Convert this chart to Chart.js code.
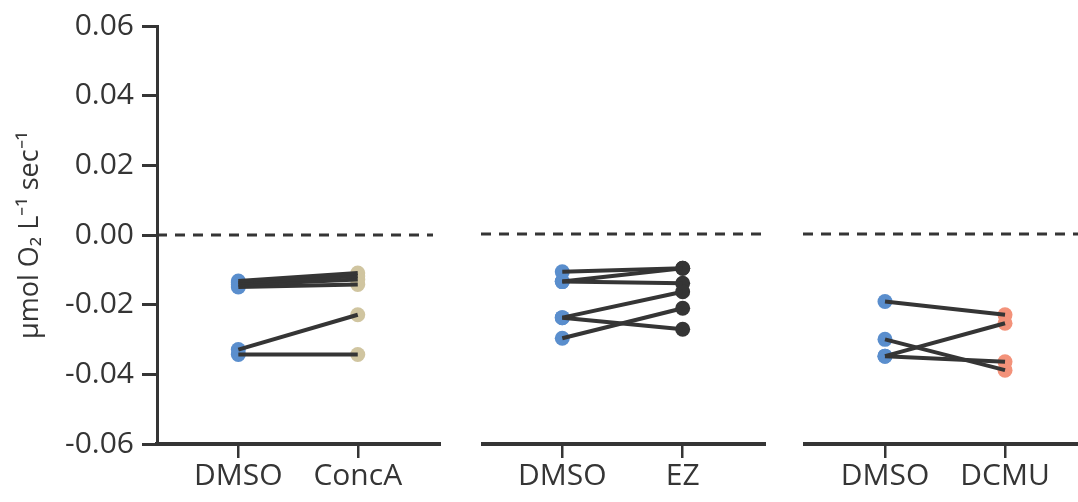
<!DOCTYPE html>
<html>
<head>
<meta charset="utf-8">
<script src="https://cdn.jsdelivr.net/npm/chart.js@4"></script>
<style>
  body { margin: 0; background: #fff; }
  canvas { position: absolute; top: 0; }
</style>
</head>
<body>
<canvas id="concaChart" width="441" height="502" style="left:0"></canvas>
<canvas id="ezChart" width="285" height="502" style="left:481px"></canvas>
<canvas id="dcmuChart" width="275" height="502" style="left:803px"></canvas>
<script>
var concaLabels = ['DMSO', 'ConcA']
var concaDmso = [-0.0132, -0.0137, -0.0143, -0.0149, -0.0329, -0.0343]
var concaTreated = [-0.0109, -0.0118, -0.0128, -0.0142, -0.0229, -0.0343]

var ezLabels = ['DMSO', 'EZ']
var ezDmso = [-0.0108, -0.0136, -0.0136, -0.0239, -0.0239, -0.0298]
var ezTreated = [-0.0098, -0.0098, -0.0141, -0.0165, -0.0272, -0.0212]

var dcmuLabels = ['DMSO', 'DCMU']
var dcmuDmso = [-0.0193, -0.0301, -0.0349, -0.0349]
var dcmuTreated = [-0.0231, -0.0389, -0.0255, -0.0365]

var yTicks = [-0.06, -0.04, -0.02, 0, 0.02, 0.04, 0.06]
var yTitle = 'μmol O₂ L⁻¹ sec⁻¹'

var dark = '#353535'
var blue = 'rgb(90, 142, 205)'
var font = 'Open Sans'

function makePanel(id, labels, before, after, color, xMin, xMax, dashEnd, showY) {
  var datasets = []
  before.forEach(function (v, i) {
    datasets.push({
      data: [{ x: 0, y: v }, { x: 1, y: after[i] }],
      showLine: true,
      borderColor: dark,
      borderWidth: 4,
      pointRadius: 0,
      order: 0,
    })
  })
  datasets.push({
    data: [{ x: xMin, y: 0 }, { x: dashEnd, y: 0 }],
    showLine: true,
    borderColor: dark,
    borderWidth: 3,
    borderDash: [10, 8],
    pointRadius: 0,
    order: 1,
  })
  datasets.push({
    data: before.map(function (v) { return { x: 0, y: v } }),
    pointRadius: 7.5,
    pointBackgroundColor: blue,
    pointBorderWidth: 0,
    order: 2,
  })
  datasets.push({
    data: after.map(function (v) { return { x: 1, y: v } }),
    pointRadius: 7.5,
    pointBackgroundColor: color,
    pointBorderWidth: 0,
    order: 2,
  })

  return new Chart(document.getElementById(id).getContext('2d'), {
    type: 'scatter',
    data: { datasets: datasets },
    options: {
      responsive: false,
      animation: false,
      layout: { autoPadding: false, padding: { top: 24, left: 0, right: 0, bottom: 0 } },
      plugins: { legend: { display: false }, tooltip: { enabled: false } },
      scales: {
        x: {
          type: 'linear',
          min: xMin,
          max: xMax,
          afterBuildTicks: function (scale) {
            scale.ticks = [{ value: 0 }, { value: 1 }]
          },
          afterFit: function (scale) {
            scale.height = 58
          },
          ticks: {
            color: dark,
            font: { family: font, size: 30 },
            padding: 0,
            callback: function (v) { return labels[Math.round(v)] },
          },
          grid: {
            drawOnChartArea: false,
            tickLength: 14,
            lineWidth: 2.5,
            color: dark,
          },
          border: { display: true, width: 4, color: dark },
        },
        y: {
          display: showY,
          min: -0.06,
          max: 0.06,
          afterBuildTicks: function (scale) {
            scale.ticks = yTicks.map(function (v) { return { value: v } })
          },
          afterFit: function (scale) {
            scale.width = showY ? 157 : 0
          },
          ticks: {
            color: dark,
            font: { family: font, size: 30 },
            padding: 8,
            callback: function (v) {
              return Math.abs(v) < 1e-9 ? '0.00' : v.toFixed(2)
            },
          },
          grid: {
            drawOnChartArea: false,
            tickLength: 15,
            lineWidth: 3,
            color: dark,
          },
          border: { display: true, width: 3, color: dark },
          title: {
            display: true,
            text: yTitle,
            color: dark,
            font: { family: font, size: 27 },
            padding: { top: 14, bottom: 0 },
          },
        },
      },
    },
  })
}

makePanel('concaChart', concaLabels, concaDmso, concaTreated, 'rgb(208, 197, 160)', -0.681, 1.697, 1.63, true)
makePanel('ezChart', ezLabels, ezDmso, ezTreated, dark, -0.675, 1.692, 1.692, false)
makePanel('dcmuChart', dcmuLabels, dcmuDmso, dcmuTreated, 'rgb(243, 146, 122)', -0.683, 1.608, 1.608, false)
</script>
</body>
</html>
